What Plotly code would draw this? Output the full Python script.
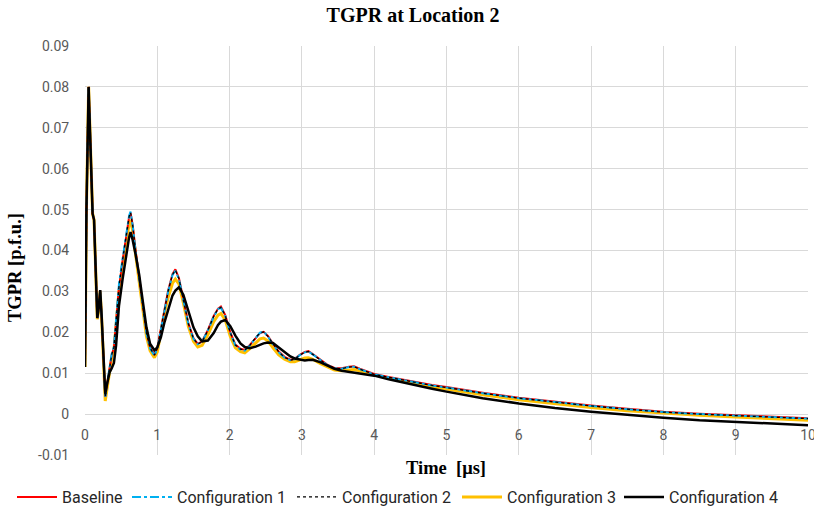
import plotly.graph_objects as go

# Time axis in microseconds (shared by all series)
time_us = [
    0.00, 0.02, 0.05, 0.08, 0.105, 0.125, 0.15, 0.17, 0.19, 0.21,
    0.23, 0.26, 0.28, 0.31, 0.34, 0.37, 0.40, 0.43, 0.47, 0.52,
    0.57, 0.61, 0.63, 0.66, 0.70, 0.75, 0.80, 0.85, 0.90, 0.96,
    1.00, 1.05, 1.10, 1.15, 1.21, 1.25, 1.30, 1.36, 1.43, 1.50,
    1.56, 1.62, 1.70, 1.78, 1.84, 1.88, 1.94, 2.01, 2.08, 2.15,
    2.21, 2.28, 2.36, 2.42, 2.47, 2.53, 2.60, 2.68, 2.76, 2.84,
    2.90, 2.97, 3.04, 3.09, 3.15, 3.25, 3.35, 3.45, 3.55, 3.65,
    3.72, 3.80, 3.90, 4.0, 4.2, 4.4, 4.6, 4.8, 5.0, 5.5,
    6.0, 6.5, 7.0, 7.5, 8.0, 8.5, 9.0, 9.5, 10.0,
]

# TGPR in p.f.u.
baseline = [
    0.0115, 0.050, 0.080, 0.065, 0.049, 0.0475, 0.034, 0.0235, 0.026, 0.0303,
    0.024, 0.010, 0.0042, 0.0078, 0.0115, 0.0145, 0.0162, 0.022, 0.031, 0.0375,
    0.0440, 0.0482, 0.0492, 0.0462, 0.0400, 0.0330, 0.0262, 0.0200, 0.0163, 0.0145,
    0.0162, 0.0212, 0.0262, 0.0302, 0.0342, 0.0354, 0.0332, 0.0282, 0.0222, 0.0186,
    0.0172, 0.0178, 0.0206, 0.0240, 0.0258, 0.0263, 0.0242, 0.0200, 0.0170, 0.0160,
    0.0157, 0.0169, 0.0187, 0.0198, 0.0201, 0.0191, 0.0172, 0.0153, 0.0140, 0.0133,
    0.0135, 0.0145, 0.0152, 0.0154, 0.0147, 0.0133, 0.0121, 0.0113, 0.0112, 0.0116,
    0.0117, 0.0111, 0.0104, 0.0098, 0.0091, 0.0084, 0.0077, 0.0071, 0.0066, 0.0052,
    0.0040, 0.0030, 0.0021, 0.0013, 0.0006, 0.0001, -0.0003, -0.0007, -0.0010,
]

config_1 = [
    0.0115, 0.050, 0.080, 0.065, 0.049, 0.0475, 0.034, 0.0235, 0.026, 0.0303,
    0.024, 0.010, 0.0040, 0.0080, 0.0118, 0.0148, 0.0165, 0.0225, 0.0318, 0.0380,
    0.0442, 0.0485, 0.0495, 0.0460, 0.0398, 0.0328, 0.0258, 0.0198, 0.0160, 0.0143,
    0.0160, 0.0210, 0.0260, 0.0300, 0.0340, 0.0350, 0.0330, 0.0280, 0.0220, 0.0184,
    0.0171, 0.0177, 0.0205, 0.0238, 0.0257, 0.0260, 0.0240, 0.0198, 0.0168, 0.0158,
    0.0155, 0.0168, 0.0187, 0.0199, 0.0202, 0.0190, 0.0170, 0.0151, 0.0138, 0.0132,
    0.0134, 0.0144, 0.0151, 0.0153, 0.0146, 0.0132, 0.0120, 0.0112, 0.0111, 0.0115,
    0.0116, 0.0110, 0.0103, 0.0097, 0.0090, 0.0083, 0.0076, 0.0070, 0.0065, 0.0051,
    0.0039, 0.0029, 0.0020, 0.0012, 0.0005, 0.0000, -0.0004, -0.0008, -0.0011,
]

config_2 = [
    0.0115, 0.050, 0.080, 0.065, 0.049, 0.0475, 0.034, 0.0235, 0.026, 0.0303,
    0.024, 0.010, 0.0041, 0.0079, 0.0116, 0.0146, 0.0163, 0.0222, 0.0312, 0.0377,
    0.0441, 0.0483, 0.0493, 0.0461, 0.0399, 0.0329, 0.0260, 0.0199, 0.0162, 0.0144,
    0.0161, 0.0211, 0.0261, 0.0301, 0.0341, 0.0352, 0.0331, 0.0281, 0.0221, 0.0185,
    0.0171, 0.0177, 0.0205, 0.0239, 0.0257, 0.0261, 0.0241, 0.0199, 0.0169, 0.0159,
    0.0156, 0.0168, 0.0187, 0.0198, 0.0201, 0.0190, 0.0171, 0.0152, 0.0139, 0.0132,
    0.0134, 0.0144, 0.0151, 0.0153, 0.0146, 0.0132, 0.0120, 0.0112, 0.0111, 0.0115,
    0.0116, 0.0110, 0.0103, 0.0097, 0.0090, 0.0083, 0.0076, 0.0070, 0.0065, 0.0051,
    0.0039, 0.0029, 0.0020, 0.0012, 0.0005, 0.0000, -0.0004, -0.0008, -0.0011,
]

config_3 = [
    0.0115, 0.050, 0.080, 0.065, 0.049, 0.0475, 0.034, 0.0232, 0.0255, 0.0300,
    0.0235, 0.0095, 0.0032, 0.0068, 0.0105, 0.0138, 0.0155, 0.0212, 0.0300, 0.0362,
    0.0425, 0.0465, 0.0474, 0.0448, 0.0390, 0.0320, 0.0250, 0.0190, 0.0155, 0.0138,
    0.0152, 0.0200, 0.0248, 0.0285, 0.0320, 0.0330, 0.0318, 0.0272, 0.0214, 0.0178,
    0.0164, 0.0168, 0.0194, 0.0226, 0.0242, 0.0246, 0.0230, 0.0190, 0.0162, 0.0153,
    0.0150, 0.0160, 0.0175, 0.0184, 0.0186, 0.0179, 0.0162, 0.0145, 0.0134, 0.0128,
    0.0128, 0.0133, 0.0137, 0.0138, 0.0134, 0.0124, 0.0115, 0.0108, 0.0106, 0.0108,
    0.0109, 0.0106, 0.0101, 0.0096, 0.0088, 0.0080, 0.0073, 0.0067, 0.0061, 0.0047,
    0.0035, 0.0025, 0.0016, 0.0008, 0.0002, -0.0003, -0.0007, -0.0011, -0.0015,
]

config_4 = [
    0.0115, 0.050, 0.080, 0.065, 0.049, 0.0475, 0.034, 0.0235, 0.026, 0.0303,
    0.0240, 0.0100, 0.0050, 0.0078, 0.0102, 0.0112, 0.0125, 0.0168, 0.0265, 0.0330,
    0.0390, 0.0432, 0.0445, 0.0425, 0.0390, 0.0340, 0.0275, 0.0212, 0.0172, 0.0156,
    0.0163, 0.0188, 0.0225, 0.0255, 0.0290, 0.0302, 0.0310, 0.0292, 0.0252, 0.0212,
    0.0190, 0.0178, 0.0180, 0.0198, 0.0218, 0.0226, 0.0230, 0.0215, 0.0192, 0.0173,
    0.0164, 0.0161, 0.0165, 0.0170, 0.0173, 0.0175, 0.0174, 0.0163, 0.0151, 0.0141,
    0.0136, 0.0133, 0.0131, 0.0132, 0.0133, 0.0127, 0.0118, 0.0111, 0.0106, 0.0103,
    0.0102, 0.0100, 0.0097, 0.0094, 0.0085, 0.0077, 0.0069, 0.0062, 0.0055, 0.0039,
    0.0026, 0.0015, 0.0006, -0.0002, -0.0009, -0.0015, -0.0019, -0.0023, -0.0027,
]

x_ticks = [0, 1, 2, 3, 4, 5, 6, 7, 8, 9, 10]
y_ticks = [-0.01, 0, 0.01, 0.02, 0.03, 0.04, 0.05, 0.06, 0.07, 0.08, 0.09]
y_tick_text = ["-0.01", "0", "0.01", "0.02", "0.03", "0.04", "0.05", "0.06", "0.07", "0.08", "0.09"]

# (name, values, colour, width, dash, legend id, legend left edge in px); drawn in this order
series = [
    ("Configuration 3", config_3, "#FFC000", 3.0, "solid", "legend4", 457),
    ("Baseline", baseline, "#FF0000", 2.0, "solid", "legend", 12),
    ("Configuration 1", config_1, "#00B0F0", 2.0, "dashdot", "legend2", 127),
    ("Configuration 2", config_2, "#000000", 1.3, "dot", "legend3", 292),
    ("Configuration 4", config_4, "#000000", 2.5, "solid", "legend5", 619),
]

W, H = 814, 510

fig = go.Figure()
legend_defs = {}
for name, vals, color, width, dash, leg, left in series:
    fig.add_trace(go.Scatter(
        x=time_us, y=vals, name=name, mode="lines",
        line=dict(color=color, width=width, dash=dash),
        legend=leg,
    ))
    legend_defs[leg] = dict(
        orientation="h", x=left / W, xanchor="left", y=1 - 497 / H, yanchor="middle",
        xref="container", yref="container", itemwidth=40,
        font=dict(family="Roboto", size=16, color="#262626"),
        bgcolor="rgba(0,0,0,0)",
    )

grid = "#D9D9D9"
tick_font = dict(family="Roboto", size=14, color="#595959")
serif_bold = dict(family="Liberation Serif", size=18.5, color="#000000")

fig.update_layout(
    width=W, height=H,
    margin=dict(l=85, r=6, t=46, b=55, autoexpand=False),
    paper_bgcolor="white", plot_bgcolor="white",
    title=dict(text="<b>TGPR at Location 2</b>",
               font=dict(family="Liberation Serif", size=20, color="#000000"),
               x=413 / W, xanchor="center", y=1 - 15 / H, yanchor="middle",
               xref="container", yref="container"),
    xaxis=dict(
        range=[0, 10], tickvals=x_ticks, showgrid=True, gridcolor=grid, gridwidth=1,
        zeroline=False, showline=False, automargin=False,
        anchor="free", position=0.1, ticklabeloverflow="allow",
        ticks="outside", ticklen=8, tickcolor="rgba(0,0,0,0)",
        tickfont=tick_font,
    ),
    yaxis=dict(
        range=[-0.01, 0.09], tickvals=y_ticks, ticktext=y_tick_text,
        showgrid=True, gridcolor=grid, gridwidth=1, automargin=False,
        zeroline=True, zerolinecolor=grid, zerolinewidth=1, showline=False,
        ticks="outside", ticklen=12, tickcolor="rgba(0,0,0,0)",
        tickfont=tick_font,
    ),
    showlegend=True,
    **legend_defs,
)

# axis titles (paper coordinates: plot area spans 85..808 px horizontally, 46..455 px vertically)
fig.add_annotation(text="<b>Time&nbsp;&nbsp;[μs]</b>", xref="paper", yref="paper",
                   x=(446 - 85) / 723, y=(455 - 468) / 409, showarrow=False, font=serif_bold,
                   xanchor="center", yanchor="middle")
fig.add_annotation(text="<b>TGPR [p.f.u.]</b>", xref="paper", yref="paper",
                   x=(15 - 85) / 723, y=(455 - 268) / 409, showarrow=False, font=serif_bold,
                   textangle=-90, xanchor="center", yanchor="middle")

fig.write_html("out.html")
